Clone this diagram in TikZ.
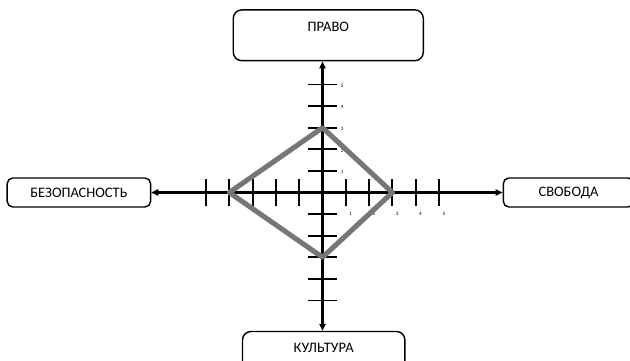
\documentclass[tikz,border=0pt]{standalone}
\usepackage{fontspec}
\setmainfont{Carlito}
\usetikzlibrary{arrows.meta}

\definecolor{shapegray}{RGB}{118,118,118}

\begin{document}
\begin{tikzpicture}[
        >={Triangle[length=5pt,width=4.5pt]},
        axis/.style={line width=1.5pt},
        axistick/.style={line width=1.4pt},
        scalenum/.style={inner sep=0pt,font=\fontsize{3.6}{4}\selectfont},
        sidebox/.style={draw,line width=1pt,rounded corners=4pt,inner sep=0pt,
            minimum height=0.725cm,font=\fontsize{10.3}{12}\selectfont},
        endbox/.style={draw,line width=1pt,rounded corners=6pt,inner sep=0pt,
            minimum height=1.27cm,text height=0.23cm,text depth=0.44cm,
            font=\fontsize{10.3}{12}\selectfont},
        profile/.style={draw=shapegray,line width=3.6pt,line join=round}
    ]
            \useasboundingbox (-8.0625,-4.1875) rectangle (7.6875,4.8125);
            \coordinate (o) at (0,0);
            \node[endbox,minimum width=4.75cm] at (0.145,3.93) (pravo) {ПРАВО};
            \node[endbox,minimum width=4.06cm] at (0.03,-4.11) (kultura) {КУЛЬТУРА};
            \node[sidebox,minimum width=3.585cm] at (-6.09,0) (bezop) {БЕЗОПАСНОСТЬ};
            \node[sidebox,minimum width=3.26cm] at (6.15,0) (svoboda) {СВОБОДА};
            \draw[axis,<->] (bezop) to (svoboda);
            \draw[axis,<->] (pravo.south -| o) to (kultura.north -| o);
            % ticks on both axes
            \foreach \i in {-5,-4,-3,-2,-1,1,2,3,4,5} {
                \draw[axistick] (\i*0.5825,-0.33) -- (\i*0.5825,0.33);
                \draw[axistick] (-0.37,\i*0.54) -- (0.37,\i*0.54);
            }
            \foreach \i in {1,...,5} {
                \node[scalenum] at (\i*0.5825+0.12,-0.53) (hnum\i) {\i};
                \node[scalenum] at (0.49,\i*0.54-0.03) (vnum\i) {\i};
            }
            \draw[profile] (0,3*0.54) -- (3*0.5825,0) -- (0,-3*0.54) -- (-4*0.5825,0) -- cycle;
        \end{tikzpicture}
\end{document}
